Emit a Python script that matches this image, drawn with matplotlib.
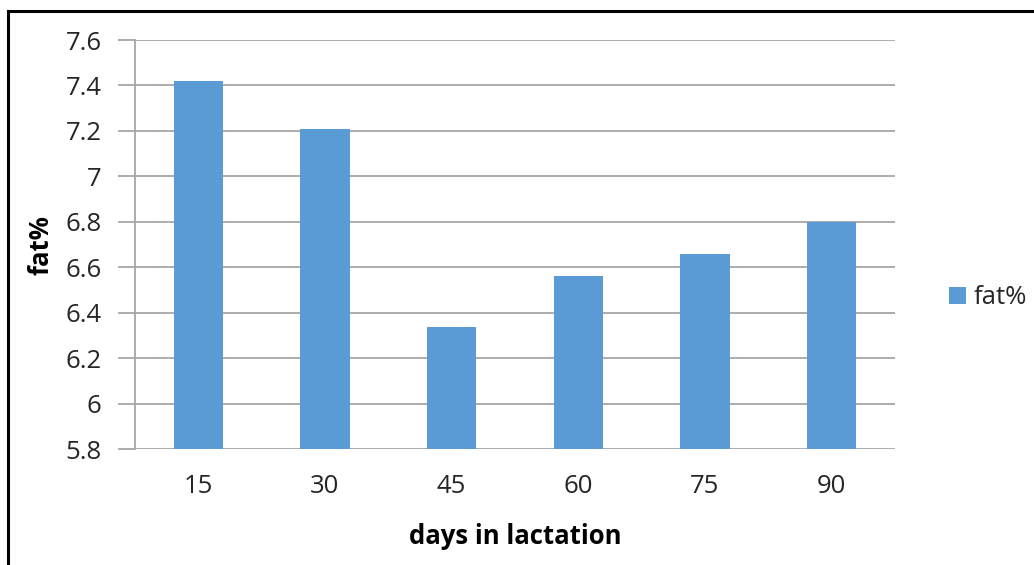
import matplotlib
matplotlib.use("Agg")
import matplotlib.pyplot as plt
from matplotlib.lines import Line2D

plt.rcParams['font.family'] = ['Open Sans', 'DejaVu Sans']

categories = ["15", "30", "45", "60", "75", "90"]
fat_values = [7.42, 7.21, 6.34, 6.56, 6.66, 6.80]
y_ticks = [5.8, 6.0, 6.2, 6.4, 6.6, 6.8, 7.0, 7.2, 7.4, 7.6]
y_tick_labels = ["5.8", "6", "6.2", "6.4", "6.6", "6.8", "7", "7.2", "7.4", "7.6"]

W, H = 1034, 565
fig = plt.figure(figsize=(W / 100, H / 100), dpi=100)
ax = fig.add_axes([135 / W, 1 - 449.3 / H, 760 / W, (449.3 - 40) / H])

x = range(len(categories))
bars = ax.bar(x, fat_values, width=0.39, color="#5B9BD5", zorder=3, label="fat%")
ax.set_ylim(5.8, 7.6)
ax.set_xlim(-0.5, len(categories) - 0.5)
ax.set_yticks(y_ticks)
ax.set_yticklabels(y_tick_labels)
ax.set_xticks(list(x))
ax.set_xticklabels(categories)
ax.yaxis.grid(True, color="#A6A6A6", linewidth=1.3, zorder=0)
for s in ["top", "right", "bottom"]:
    ax.spines[s].set_visible(False)
ax.spines["left"].set_color("#A6A6A6")
ax.spines["left"].set_linewidth(1.3)
ax.tick_params(axis="y", length=12, width=1.3, color="#A6A6A6", labelsize=18.5,
               labelcolor="#262626", pad=12)
ax.tick_params(axis="x", length=0, labelsize=18.5, labelcolor="#262626", pad=18)
ax.set_ylabel("fat%", fontsize=18.5, fontweight="bold", labelpad=8, color="#000000")
ax.set_xlabel("days in lactation", fontsize=18.5, fontweight="bold", labelpad=17,
              color="#000000")

ax.legend(handles=[bars], labels=["fat%"], loc="center left",
          bbox_to_anchor=(926 / W, 1 - 298 / H), bbox_transform=fig.transFigure,
          frameon=False, fontsize=18.5, handlelength=0.65, handleheight=0.65,
          handletextpad=0.3, labelcolor="#262626")

fig.add_artist(Line2D([8 / W, 8 / W], [0, 1 - 11 / H], transform=fig.transFigure,
                      color="black", linewidth=2.2))
fig.add_artist(Line2D([8 / W, 1], [1 - 11 / H, 1 - 11 / H], transform=fig.transFigure,
                      color="black", linewidth=2.2))

fig.savefig("out.png", dpi=100)
